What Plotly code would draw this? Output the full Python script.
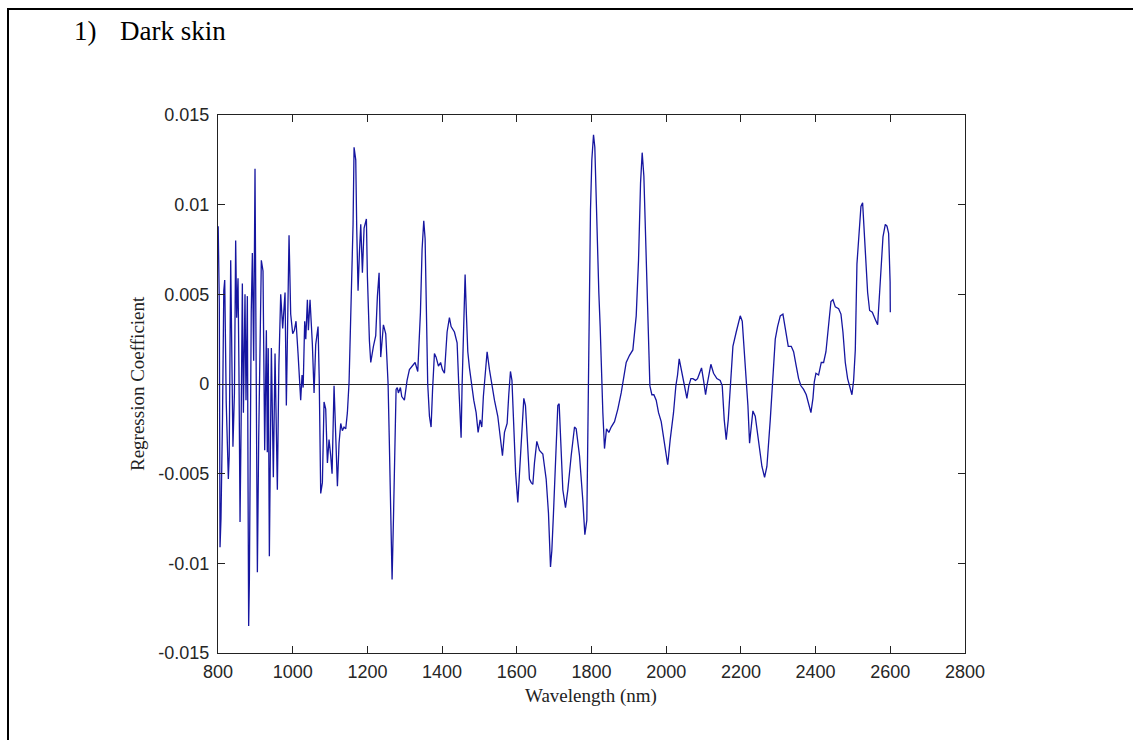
import plotly.graph_objects as go

# ---- data (wavelength in nm, regression coefficient) ----
wl_a = [800.5, 803.5, 805.4, 808, 812, 815.5, 818, 822, 827.7, 830, 834, 837, 840, 844, 847.3, 850, 853.6, 856,
        859, 862, 865.2, 868, 872.3, 875, 878.6, 880.5, 882.1, 884, 886, 889, 892, 895.5, 899.1, 902, 905.4, 909,
        913, 916, 920.5, 925, 929.5, 932, 934.5, 937.5, 942.9, 948.2, 952.7, 958.9, 963, 967.9, 973.2, 979.5,
        983, 986, 990.2, 994.6, 1000, 1004.5, 1008.9, 1014.3, 1018, 1021.4, 1025, 1028, 1032.1, 1035, 1039.3,
        1042, 1046.4, 1052.7, 1057.2, 1061.6, 1067.9, 1071, 1075, 1079.5, 1083.9, 1088.4, 1092.9, 1097.3,
        1101.8, 1105.4, 1110.7, 1115, 1119.7, 1124.1, 1128.6, 1133, 1137.5, 1142, 1146.4, 1150.9, 1155.4,
        1161.6, 1164.3, 1168.8, 1171.5, 1175, 1178.6, 1182.2, 1186.6, 1191.1, 1197.3, 1200, 1205.4, 1209,
        1216.1, 1222.3, 1226.8, 1231.3, 1235.7, 1238.5, 1242.9, 1249.1, 1255.4, 1258.5]
coef_a = [0.0088, 0.0045, -0.0091, -0.0075, -0.0020, 0.0052, 0.0058, -0.0010, -0.0053, -0.0040, 0.0069, 0.0010,
          -0.0035, -0.0005, 0.0080, 0.0037, 0.0059, 0.0010, -0.0077, -0.0020, 0.0056, -0.0016, 0.0050, -0.0009,
          0.0049, -0.0060, -0.0135, -0.0110, -0.0025, 0.0040, 0.0073, 0.0013, 0.0120, 0.0020, -0.0105, -0.0030,
          0.0030, 0.0069, 0.0063, -0.0037, 0.0030, -0.0038, 0.0020, -0.0096, 0.0020, -0.0052, 0.0017, -0.0059,
          0.0010, 0.0050, 0.0031, 0.0051, -0.0012, 0.0030, 0.0083, 0.0039, 0.0028, 0.0030, 0.0035, 0.0017,
          0.0005, -0.0009, 0.0005, -0.0002, 0.0035, 0.0025, 0.0047, 0.0030, 0.0047, 0.0022, -0.0005, 0.0022,
          0.0032, 0.0003, -0.0061, -0.0055, -0.0010, -0.0014, -0.0044, -0.0031, -0.0040, -0.0050, -0.0001,
          -0.0027, -0.0057, -0.0033, -0.0022, -0.0026, -0.0024, -0.0025, -0.0016, 0.0001, 0.0037, 0.0089,
          0.0132, 0.0125, 0.0086, 0.0052, 0.0073, 0.0089, 0.0062, 0.0087, 0.0092, 0.0060, 0.0024, 0.0012,
          0.0021, 0.0027, 0.0049, 0.0062, 0.0015, 0.0022, 0.0033, 0.0028, 0.0000, -0.0030]

wl_b = [1261.6, 1266.1, 1269.7, 1274.1, 1276.8, 1280, 1283, 1288.4, 1292, 1299.1, 1306.2, 1312.5, 1321.4, 1327.7,
        1334.8, 1342, 1346.4, 1350.9, 1354.5, 1358, 1361.5, 1366.1, 1370.5, 1374.5, 1379.5, 1383.9, 1390.2, 1396,
        1401, 1406.3, 1413.4, 1419.6, 1424.1, 1433, 1440.2, 1444.5, 1448.5, 1450.9, 1453.5, 1458, 1461.6, 1465.2,
        1468.8, 1473.2, 1478, 1484.8, 1491.1, 1496.4, 1501.8, 1506.3, 1510.5, 1516.1, 1520.5, 1526.8, 1533,
        1540.2, 1549.1, 1556.3, 1561.6, 1567, 1574.1, 1578.5, 1583, 1587, 1592, 1597, 1602.7, 1606.3, 1611.6,
        1618.8, 1623.2, 1629.5, 1633.9, 1638.5, 1642.9, 1647.3, 1653.6, 1660.7, 1669.7, 1678.6, 1684.8, 1690.2,
        1693.8, 1698.2, 1704.5, 1709.8, 1713.4, 1717, 1723.2, 1730.4, 1736.6, 1745.6, 1754.5, 1759, 1767.9,
        1776.8, 1782.2, 1787.5, 1790.2, 1792.9, 1797.3, 1800.9, 1805.4, 1808.9, 1812.5, 1816.9, 1819.6, 1823.2,
        1826.5, 1830.4, 1834.8, 1840.2, 1846.4, 1852.7, 1861.6, 1870.5, 1879.5, 1886.6, 1892.9, 1901.8, 1910.7,
        1919.7, 1925.9, 1931.3, 1935.7, 1940.2, 1944.7, 1948.2, 1952.7, 1956.3, 1961.6, 1967, 1973.2, 1979.5,
        1986.6, 1993.8, 2000]
coef_b = [-0.0072, -0.0109, -0.0076, -0.0035, -0.0003, -0.0002, -0.0005, -0.0002, -0.0007, -0.0009, 0.0002, 0.0008,
          0.0010, 0.0012, 0.0007, 0.0040, 0.0075, 0.0091, 0.0081, 0.0042, 0.0000, -0.0018, -0.0024, -0.0003,
          0.0017, 0.0015, 0.0010, 0.0012, 0.0008, 0.0006, 0.0029, 0.0037, 0.0032, 0.0029, 0.0023, 0.0000,
          -0.0018, -0.0030, -0.0001, 0.0044, 0.0061, 0.0038, 0.0018, 0.0009, 0.0001, -0.0009, -0.0016, -0.0027,
          -0.0020, -0.0024, -0.0007, 0.0010, 0.0018, 0.0008, -0.0001, -0.0009, -0.0018, -0.0031, -0.0040,
          -0.0027, -0.0022, -0.0006, 0.0007, 0.0002, -0.0020, -0.0050, -0.0066, -0.0053, -0.0029, -0.0008,
          -0.0012, -0.0038, -0.0053, -0.0055, -0.0056, -0.0044, -0.0032, -0.0037, -0.0039, -0.0053, -0.0072,
          -0.0102, -0.0093, -0.0072, -0.0040, -0.0012, -0.0011, -0.0029, -0.0059, -0.0069, -0.0059, -0.0040,
          -0.0024, -0.0025, -0.0040, -0.0065, -0.0084, -0.0076, -0.0020, 0.0018, 0.0097, 0.0125, 0.0139, 0.0132,
          0.0103, 0.0058, 0.0051, 0.0032, 0.0004, -0.0016, -0.0036, -0.0025, -0.0027, -0.0024, -0.0021, -0.0014,
          -0.0005, 0.0003, 0.0012, 0.0016, 0.0019, 0.0038, 0.0069, 0.0112, 0.0129, 0.0116, 0.0084, 0.0055,
          0.0019, -0.0001, -0.0006, -0.0006, -0.0009, -0.0016, -0.0021, -0.0031, -0.0040]

wl_c = [2004, 2010.7, 2019.6, 2025.9, 2030.4, 2034.8, 2041.1, 2048, 2055.4, 2060.5, 2066.1, 2071.4, 2078.6, 2083.9,
        2089.3, 2094.6, 2100, 2105.4, 2109, 2114.3, 2119.6, 2126.8, 2135.7, 2144.6, 2150, 2155.4, 2160.7, 2166.1,
        2171.4, 2178.6, 2187.5, 2198.2, 2203.6, 2208.9, 2214, 2218.8, 2223.2, 2227.7, 2232.1, 2238.4, 2247.3,
        2256.3, 2263.4, 2269.6, 2278.6, 2285.7, 2292, 2298.2, 2305.4, 2312.5, 2318.8, 2326.8, 2334.8, 2341.1,
        2348.2, 2354.5, 2360.7, 2367.9, 2375, 2382.1, 2387.5, 2392.9, 2396.4, 2400.9, 2408, 2415.2, 2421.4,
        2427.7, 2434.8, 2441.1, 2446.4, 2452.7, 2461.6, 2467.9, 2473.2, 2479.5, 2485.7, 2491.1, 2497.3, 2501.8,
        2506.3, 2510.7, 2516.1, 2521.4, 2525.9, 2530.4, 2534.8, 2539.3, 2544.6, 2551.8, 2559.8, 2566.1, 2571.4,
        2575, 2580.4, 2586.6, 2591.1, 2595.5, 2598.2, 2599.5, 2600]
coef_c = [-0.0045, -0.0031, -0.0016, -0.0001, 0.0005, 0.0014, 0.0008, 0.0000, -0.0008, -0.0001, 0.0003, 0.0003,
          0.0002, 0.0003, 0.0006, 0.0009, 0.0002, -0.0006, -0.0001, 0.0006, 0.0011, 0.0006, 0.0003, 0.0002,
          -0.0001, -0.0020, -0.0031, -0.0020, -0.0001, 0.0021, 0.0029, 0.0038, 0.0035, 0.0018, -0.0001, -0.0012,
          -0.0033, -0.0022, -0.0015, -0.0018, -0.0033, -0.0046, -0.0052, -0.0046, -0.0020, 0.0001, 0.0025,
          0.0032, 0.0038, 0.0039, 0.0030, 0.0021, 0.0021, 0.0018, 0.0010, 0.0003, -0.0001, -0.0003, -0.0006,
          -0.0011, -0.0016, -0.0008, 0.0001, 0.0006, 0.0005, 0.0012, 0.0012, 0.0018, 0.0032, 0.0046, 0.0047,
          0.0043, 0.0042, 0.0039, 0.0029, 0.0012, 0.0003, -0.0002, -0.0006, 0.0002, 0.0019, 0.0067, 0.0086,
          0.0099, 0.0101, 0.0086, 0.0067, 0.0051, 0.0041, 0.0040, 0.0036, 0.0033, 0.0051, 0.0065, 0.0082,
          0.0089, 0.0088, 0.0084, 0.0069, 0.0057, 0.0040]

x_ticks = [800, 1000, 1200, 1400, 1600, 1800, 2000, 2200, 2400, 2600, 2800]
y_ticks = [-0.015, -0.01, -0.005, 0, 0.005, 0.01, 0.015]
y_tick_labels = ["-0.015", "-0.01", "-0.005", "0", "0.005", "0.01", "0.015"]

wavelength = wl_a + wl_b + wl_c
coefficient = coef_a + coef_b + coef_c

# ---- layout geometry (pixels) ----
W, H = 1133, 740
L, R, T, B = 218, 965, 115, 653
pw, ph = R - L, B - T


def px(x):
    return (x - L) / pw


def py(y):
    return (B - y) / ph


fig = go.Figure()
fig.add_trace(go.Scatter(x=wavelength, y=coefficient, mode="lines",
                         line=dict(color="#1616a0", width=1.3), showlegend=False,
                         hoverinfo="x+y"))

tick_font = dict(family="Liberation Sans, Arial, sans-serif", size=18, color="#262626")
serif = "Liberation Serif, Times New Roman, serif"

fig.update_layout(
    width=W, height=H,
    margin=dict(l=L, r=W - R, t=T, b=H - B, autoexpand=False),
    paper_bgcolor="white", plot_bgcolor="white",
    xaxis=dict(range=[800, 2800], tickvals=x_ticks, ticktext=[str(v) for v in x_ticks],
               showgrid=False, zeroline=False, showline=True, linecolor="#222", linewidth=1.2,
               mirror="ticks", ticks="inside", ticklen=7, tickcolor="#222", tickwidth=1,
               tickfont=tick_font, ticklabelstandoff=2),
    yaxis=dict(range=[-0.015, 0.015], tickvals=y_ticks, ticktext=y_tick_labels,
               showgrid=False, zeroline=True, zerolinecolor="#222", zerolinewidth=1.3,
               showline=True, linecolor="#222", linewidth=1.2,
               mirror="ticks", ticks="inside", ticklen=7, tickcolor="#222", tickwidth=1,
               tickfont=tick_font, ticklabelstandoff=4),
    annotations=[
        dict(text="1)", xref="paper", yref="paper", x=px(72), y=py(31), xanchor="left", yanchor="middle",
             showarrow=False, font=dict(family=serif, size=27, color="black")),
        dict(text="Dark skin", xref="paper", yref="paper", x=px(118), y=py(31), xanchor="left",
             yanchor="middle", showarrow=False, font=dict(family=serif, size=27, color="black")),
        dict(text="Regression Coefficient", xref="paper", yref="paper", x=px(137), y=py(384),
             xanchor="center", yanchor="middle", textangle=-90, showarrow=False,
             font=dict(family=serif, size=19, color="#222")),
        dict(text="Wavelength (nm)", xref="paper", yref="paper", x=px(591), y=py(696),
             xanchor="center", yanchor="middle", showarrow=False,
             font=dict(family=serif, size=19, color="#222")),
    ],
    shapes=[
        dict(type="line", xref="paper", yref="paper", x0=px(7), x1=px(1133), y0=py(9), y1=py(9),
             line=dict(color="black", width=2)),
        dict(type="line", xref="paper", yref="paper", x0=px(8), x1=px(8), y0=py(8), y1=py(740),
             line=dict(color="black", width=2)),
    ],
)

fig.write_html("out.html")
